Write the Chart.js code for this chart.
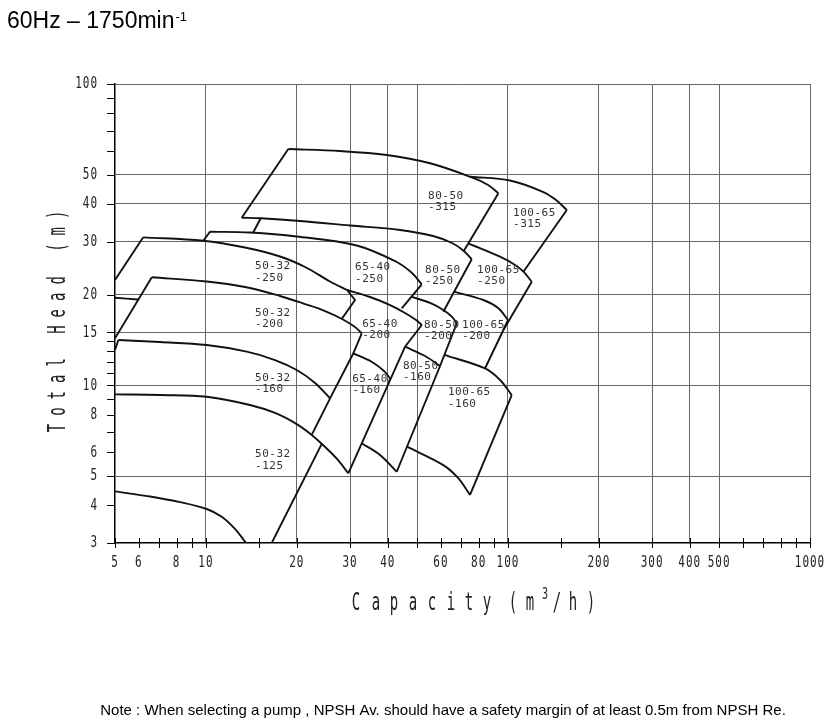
<!DOCTYPE html>
<html><head><meta charset="utf-8">
<script src="https://cdn.jsdelivr.net/npm/chart.js@4"></script>
<style>html,body{margin:0;padding:0;background:#fff;}canvas{display:block}</style>
</head><body>
<canvas id="c" width="840" height="720"></canvas>
<script>
// ---------- axis values ----------
const xGridValues = [10,20,30,40,50,100,200,300,400,500,1000];
const yGridValues = [5,10,15,20,30,40,50,100];
const xTickMarks = [5,6,7,8,9,10,15,20,30,40,50,60,70,80,90,100,150,200,300,400,500,600,700,800,900,1000];
const xTickLabels = [5,6,8,10,20,30,40,60,80,100,200,300,400,500,1000];
const yTickMarks = [3,4,5,6,7,8,9,10,11,12,13,14,15,20,30,40,50,60,70,80,90,100];
const yTickLabels = [3,4,5,6,8,10,15,20,30,40,50,100];

// ---------- pump ranges: [capacity m3/h, head m] ----------
const p50_32_250 = {
  left:  [[5,22.37],[6.20,30.99]],
  top:   [[6.20,30.99],[9.80,30.20],[13.47,28.67],[17.59,26.77],[21.29,24.71],[25.76,22.12],[29.32,20.73]],
  right: [[29.32,20.73],[31.16,19.20],[28.23,16.67]],
  low:   [[5,19.54],[5.96,19.28]]
};
const p50_32_200 = {
  left:  [[5,14.33],[6.62,22.84]],
  top:   [[6.62,22.84],[10.06,22.12],[13.47,21.21],[17.59,19.80],[21.29,18.62],[24.80,17.65],[28.23,16.61],[31.16,15.62],[32.80,14.89]],
  right: [[32.80,14.89],[30.77,12.78],[25.76,9.06],[22.40,6.85]]
};
const p50_32_160 = {
  left:  [[5,13.10],[5.13,14.15]],
  top:   [[5.13,14.15],[7.05,13.93],[10.06,13.61],[13.65,12.94],[16.93,12.14],[19.98,11.25],[22.98,10.19],[25.76,9.06]]
};
const p50_32_125 = {
  top:   [[5,9.34],[7.05,9.29],[10.06,9.17],[13.99,8.61],[16.93,8.10],[19.98,7.44],[22.40,6.85],[24.80,6.25],[27.17,5.70],[29.61,5.11]],
  right: [[24.23,6.42],[16.51,3.0]],
  low:   [[5,4.45],[6.53,4.28],[8.21,4.10],[10.06,3.89],[11.31,3.66],[12.48,3.34],[13.58,3.0]]
};
const p65_40_250 = {
  left:  [[9.80,30.20],[10.32,32.36]],
  top:   [[10.32,32.36],[13.99,32.16],[19.98,31.19],[31.57,29.11],[42.83,25.67],[48.12,23.60],[51.83,21.65]],
  right: [[51.83,21.65],[44.49,18.02]]
};
const p65_40_200 = {
  top:   [[29.32,20.73],[34.94,19.65],[40.70,18.48],[45.63,17.39],[49.62,16.48],[51.83,15.86]],
  right: [[51.83,15.86],[45.63,13.44],[29.61,5.11]]
};
const p65_40_160 = {
  top:   [[30.77,12.78],[35.48,11.96],[38.88,11.16],[40.70,10.56]],
  right: [[40.70,10.56],[40.30,10.19]]
};
const p80_50_315 = {
  left:  [[13.14,36.01],[18.74,60.85]],
  top:   [[18.74,60.85],[27.80,59.93],[39.69,58.13],[55.21,54.57],[74.89,49.25],[85.95,46.22],[92.95,43.39]],
  right: [[92.95,43.39],[71.16,27.77]]
};
const p80_50_250 = {
  left:  [[15.19,35.85],[14.35,32.21]],
  top:   [[13.14,36.01],[15.19,35.85],[20.49,35.12],[30.0,33.93],[43.92,32.79],[56.49,31.31],[65.28,29.68],[71.16,28.03],[75.86,26.21]],
  right: [[75.86,26.21],[61.10,17.56]]
};
const p80_50_200 = {
  top:   [[47.91,19.70],[55.21,18.77],[61.10,17.79],[65.28,16.87],[67.67,16.07]],
  right: [[67.67,16.07],[59.59,11.60],[42.83,5.17]]
};
const p80_50_160 = {
  top:   [[45.63,13.44],[53.15,12.52],[59.59,11.60]],
  low:   [[32.80,6.43],[37.71,5.88],[42.83,5.17]]
};
const p100_65_315 = {
  top:   [[74.89,49.25],[101.6,47.85],[131.0,43.82],[144.3,41.22],[156.6,38.19]],
  right: [[156.6,38.19],[112.5,23.84]]
};
const p100_65_250 = {
  top:   [[73.93,29.61],[94.15,26.73],[105.6,25.09],[112.5,23.84],[119.9,22.08]],
  right: [[119.9,22.08],[96.56,15.27]]
};
const p100_65_200 = {
  top:   [[66.29,20.46],[82.92,19.20],[92.73,18.06],[100.07,16.48]],
  right: [[100.07,16.48],[96.56,15.27],[84.0,11.40]]
};
const p100_65_160 = {
  top:   [[61.57,12.62],[84.0,11.38],[94.15,10.42],[102.9,9.29]],
  right: [[102.9,9.29],[74.89,4.33]],
  low:   [[46.33,6.26],[61.10,5.44],[68.35,4.93],[74.89,4.33]]
};
const pumpRanges = [p50_32_250,p50_32_200,p50_32_160,p50_32_125,p65_40_250,p65_40_200,p65_40_160,
  p80_50_315,p80_50_250,p80_50_200,p80_50_160,p100_65_315,p100_65_250,p100_65_200,p100_65_160];

// ---------- model labels (anchor: capacity, head) ----------
const modelNames = [['50-32','-250'],['50-32','-200'],['50-32','-160'],['50-32','-125'],
  ['65-40','-250'],['65-40','-200'],['65-40','-160'],
  ['80-50','-315'],['80-50','-250'],['80-50','-200'],['80-50','-160'],
  ['100-65','-315'],['100-65','-250'],['100-65','-200'],['100-65','-160']];
const modelAnchorQ = [14.54,14.54,14.54,14.54, 31.16,32.9,30.5, 54.4,53.15,52.7,44.9, 104.0,79.0,70.5,63.3];
const modelAnchorH = [24.81,17.39,10.58,5.90, 24.62,15.98,10.50, 42.5,24.15,15.86,11.60, 37.3,24.15,15.86,9.47];

// ---------- build datasets ----------
const datasets = [];
pumpRanges.forEach(r => {
  Object.keys(r).forEach(k => {
    const curved = (k === 'top' || k === 'low');
    datasets.push({
      data: r[k].map(p => ({x:p[0], y:p[1]})),
      showLine:true, pointRadius:0, borderColor:'#111', borderWidth:1.9,
      tension: curved ? 0.35 : 0, fill:false
    });
  });
});

function stretchText(ctx, txt, x, y, font, sy, align, base) {
  ctx.save();
  ctx.translate(x, y);
  ctx.scale(1, sy);
  ctx.font = font;
  ctx.textAlign = align || 'left';
  ctx.textBaseline = base || 'middle';
  ctx.fillText(txt, 0, 0);
  ctx.restore();
}

const decor = {
  id:'decor',
  afterDraw(chart) {
    const ctx = chart.ctx, xs = chart.scales.x, ys = chart.scales.y, a = chart.chartArea;
    ctx.save();
    // tick marks
    ctx.strokeStyle = '#000'; ctx.lineWidth = 1;
    xTickMarks.forEach(v => { const px = Math.round(xs.getPixelForValue(v)) + 0.5;
      ctx.beginPath(); ctx.moveTo(px, a.bottom - 5); ctx.lineTo(px, a.bottom + 5); ctx.stroke(); });
    yTickMarks.forEach(v => { const py = Math.round(ys.getPixelForValue(v)) + 0.5;
      ctx.beginPath(); ctx.moveTo(a.left - 8, py); ctx.lineTo(a.left, py); ctx.stroke(); });
    // tick labels
    ctx.fillStyle = '#222';
    if ('letterSpacing' in ctx) ctx.letterSpacing = '1px';
    xTickLabels.forEach(v => stretchText(ctx, String(v), xs.getPixelForValue(v), 563, '11px "DejaVu Sans Mono"', 1.5, 'center'));
    yTickLabels.forEach(v => stretchText(ctx, String(v), 98, ys.getPixelForValue(v), '11px "DejaVu Sans Mono"', 1.5, 'right'));
    if ('letterSpacing' in ctx) ctx.letterSpacing = '0px';
    // model labels
    ctx.fillStyle = '#333';
    modelNames.forEach((nm, i) => {
      const px = xs.getPixelForValue(modelAnchorQ[i]), py = ys.getPixelForValue(modelAnchorH[i]);
      ctx.font = '11px "DejaVu Sans Mono"'; ctx.textAlign = 'left'; ctx.textBaseline = 'middle';
      if ('letterSpacing' in ctx) ctx.letterSpacing = '0.5px';
      ctx.fillText(nm[0], px, py);
      ctx.fillText(nm[1], px, py + 11.5);
      if ('letterSpacing' in ctx) ctx.letterSpacing = '0px';
    });
    // x title (spaced characters)
    ctx.fillStyle = '#222';
    const xt = ['C','a','p','a','c','i','t','y','(','m','3','/','h',')'];
    const xc = [356,376,394,413,432,451,469,487,513,530,545,557,573,591];
    xt.forEach((ch, i) => {
      if (ch === '3') stretchText(ctx, ch, xc[i], 599, '10px "DejaVu Sans Mono"', 1.6, 'center', 'alphabetic');
      else stretchText(ctx, ch, xc[i], 610, '14px "DejaVu Sans Mono"', 1.75, 'center', 'alphabetic');
    });
    // y title
    const yt = 'Total Head (m)';
    ctx.save();
    ctx.translate(65, 0);
    ctx.rotate(-Math.PI / 2);
    for (let i = 0; i < yt.length; i++) {
      if (yt[i] === ' ') continue;
      const cy = 428 - i * 16.4;
      stretchText(ctx, yt[i], -cy, 0, '14px "DejaVu Sans Mono"', 1.75, 'center', 'alphabetic');
    }
    ctx.restore();
    // header
    ctx.fillStyle = '#000';
    ctx.font = '23px "Liberation Sans", Arial, sans-serif';
    ctx.textAlign = 'left'; ctx.textBaseline = 'alphabetic';
    ctx.fillText('60Hz – 1750min', 7, 28);
    const w = ctx.measureText('60Hz – 1750min').width;
    ctx.font = '13px "Liberation Sans", Arial, sans-serif';
    ctx.fillText('-1', 7 + w + 1, 21);
    // note
    ctx.font = '15px "Liberation Sans", Arial, sans-serif';
    ctx.textAlign = 'center';
    ctx.fillText('Note : When selecting a pump , NPSH Av. should have a safety margin of at least 0.5m from NPSH Re.', 443, 715);
    ctx.restore();
  }
};

new Chart(document.getElementById('c'), {
  type:'scatter',
  data:{ datasets },
  options:{
    responsive:false, animation:false, devicePixelRatio:1,
    layout:{ padding:{ left:115, right:30, top:84, bottom:177 } },
    plugins:{ legend:{display:false}, tooltip:{enabled:false} },
    scales:{
      x:{ type:'logarithmic', min:5, max:1000,
          afterBuildTicks: s => { s.ticks = xGridValues.map(v => ({value:v})); },
          ticks:{ display:false },
          grid:{ color:'#666', lineWidth:1, drawTicks:false },
          border:{ display:true, color:'#000', width:1.5 } },
      y:{ type:'logarithmic', min:3, max:100,
          afterBuildTicks: s => { s.ticks = yGridValues.map(v => ({value:v})); },
          ticks:{ display:false },
          grid:{ color:'#666', lineWidth:1, drawTicks:false },
          border:{ display:true, color:'#000', width:1.5 } }
    }
  },
  plugins:[decor]
});
</script>
</body></html>
